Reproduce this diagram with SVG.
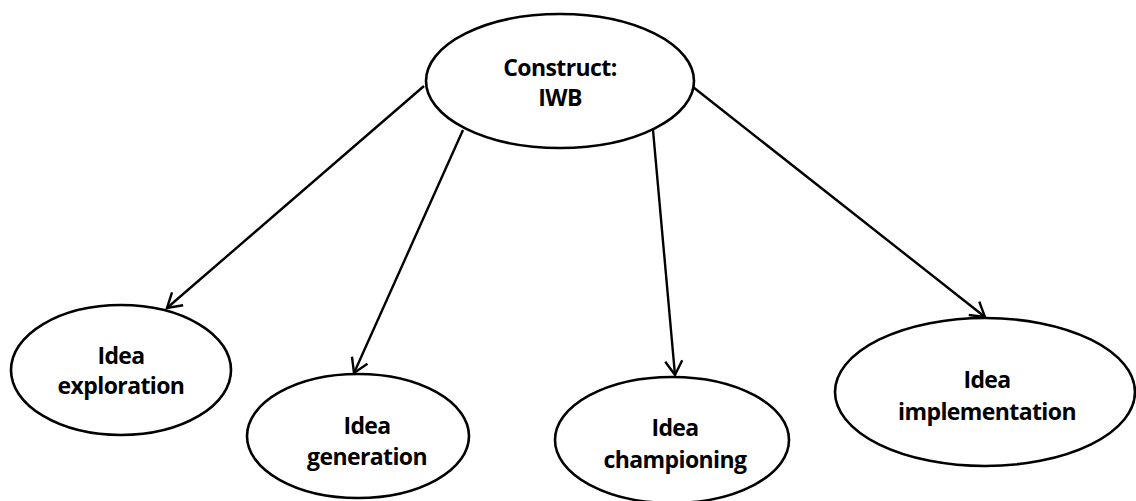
<svg xmlns="http://www.w3.org/2000/svg" width="1136" height="501" viewBox="0 0 1136 501">
  <style>
    .node ellipse { fill: #ffffff; stroke: #000000; stroke-width: 2.6; }
    .node text { font-family: "Open Sans", "Liberation Sans", sans-serif; font-weight: bold; font-size: 23px; letter-spacing: -0.6px; fill: #000000; text-anchor: middle; }
    .edge { stroke: #000000; stroke-width: 2.4; fill: none; marker-end: url(#arrow); }
  </style>
  <defs>
    <marker id="arrow" markerUnits="userSpaceOnUse" markerWidth="24" markerHeight="24" refX="16" refY="10" orient="auto">
      <path d="M2,1.5 L16,10 L2,18.5" fill="none" stroke="#000000" stroke-width="2.4"/>
    </marker>
  </defs>

  <g id="connectors">
    <line class="edge" x1="424" y1="86" x2="167" y2="308"/>
    <line class="edge" x1="463" y1="130" x2="354" y2="373"/>
    <line class="edge" x1="653" y1="130" x2="675" y2="375"/>
    <line class="edge" x1="693" y1="87" x2="985" y2="317"/>
  </g>

  <g id="construct-iwb" class="node">
    <ellipse cx="560" cy="81" rx="134" ry="67"/>
    <text x="560" y="76">Construct:</text>
    <text x="560" y="106">IWB</text>
  </g>

  <g id="idea-exploration" class="node">
    <ellipse cx="121" cy="370" rx="110" ry="65"/>
    <text x="121" y="364">Idea</text>
    <text x="121" y="394">exploration</text>
  </g>

  <g id="idea-generation" class="node">
    <ellipse cx="358" cy="436" rx="111" ry="62"/>
    <text x="367" y="434">Idea</text>
    <text x="367" y="465">generation</text>
  </g>

  <g id="idea-championing" class="node">
    <ellipse cx="672" cy="440" rx="117" ry="63"/>
    <text x="675" y="436">Idea</text>
    <text x="675" y="468">championing</text>
  </g>

  <g id="idea-implementation" class="node">
    <ellipse cx="985" cy="392" rx="150" ry="74"/>
    <text x="987" y="388">Idea</text>
    <text x="987" y="420">implementation</text>
  </g>
</svg>
